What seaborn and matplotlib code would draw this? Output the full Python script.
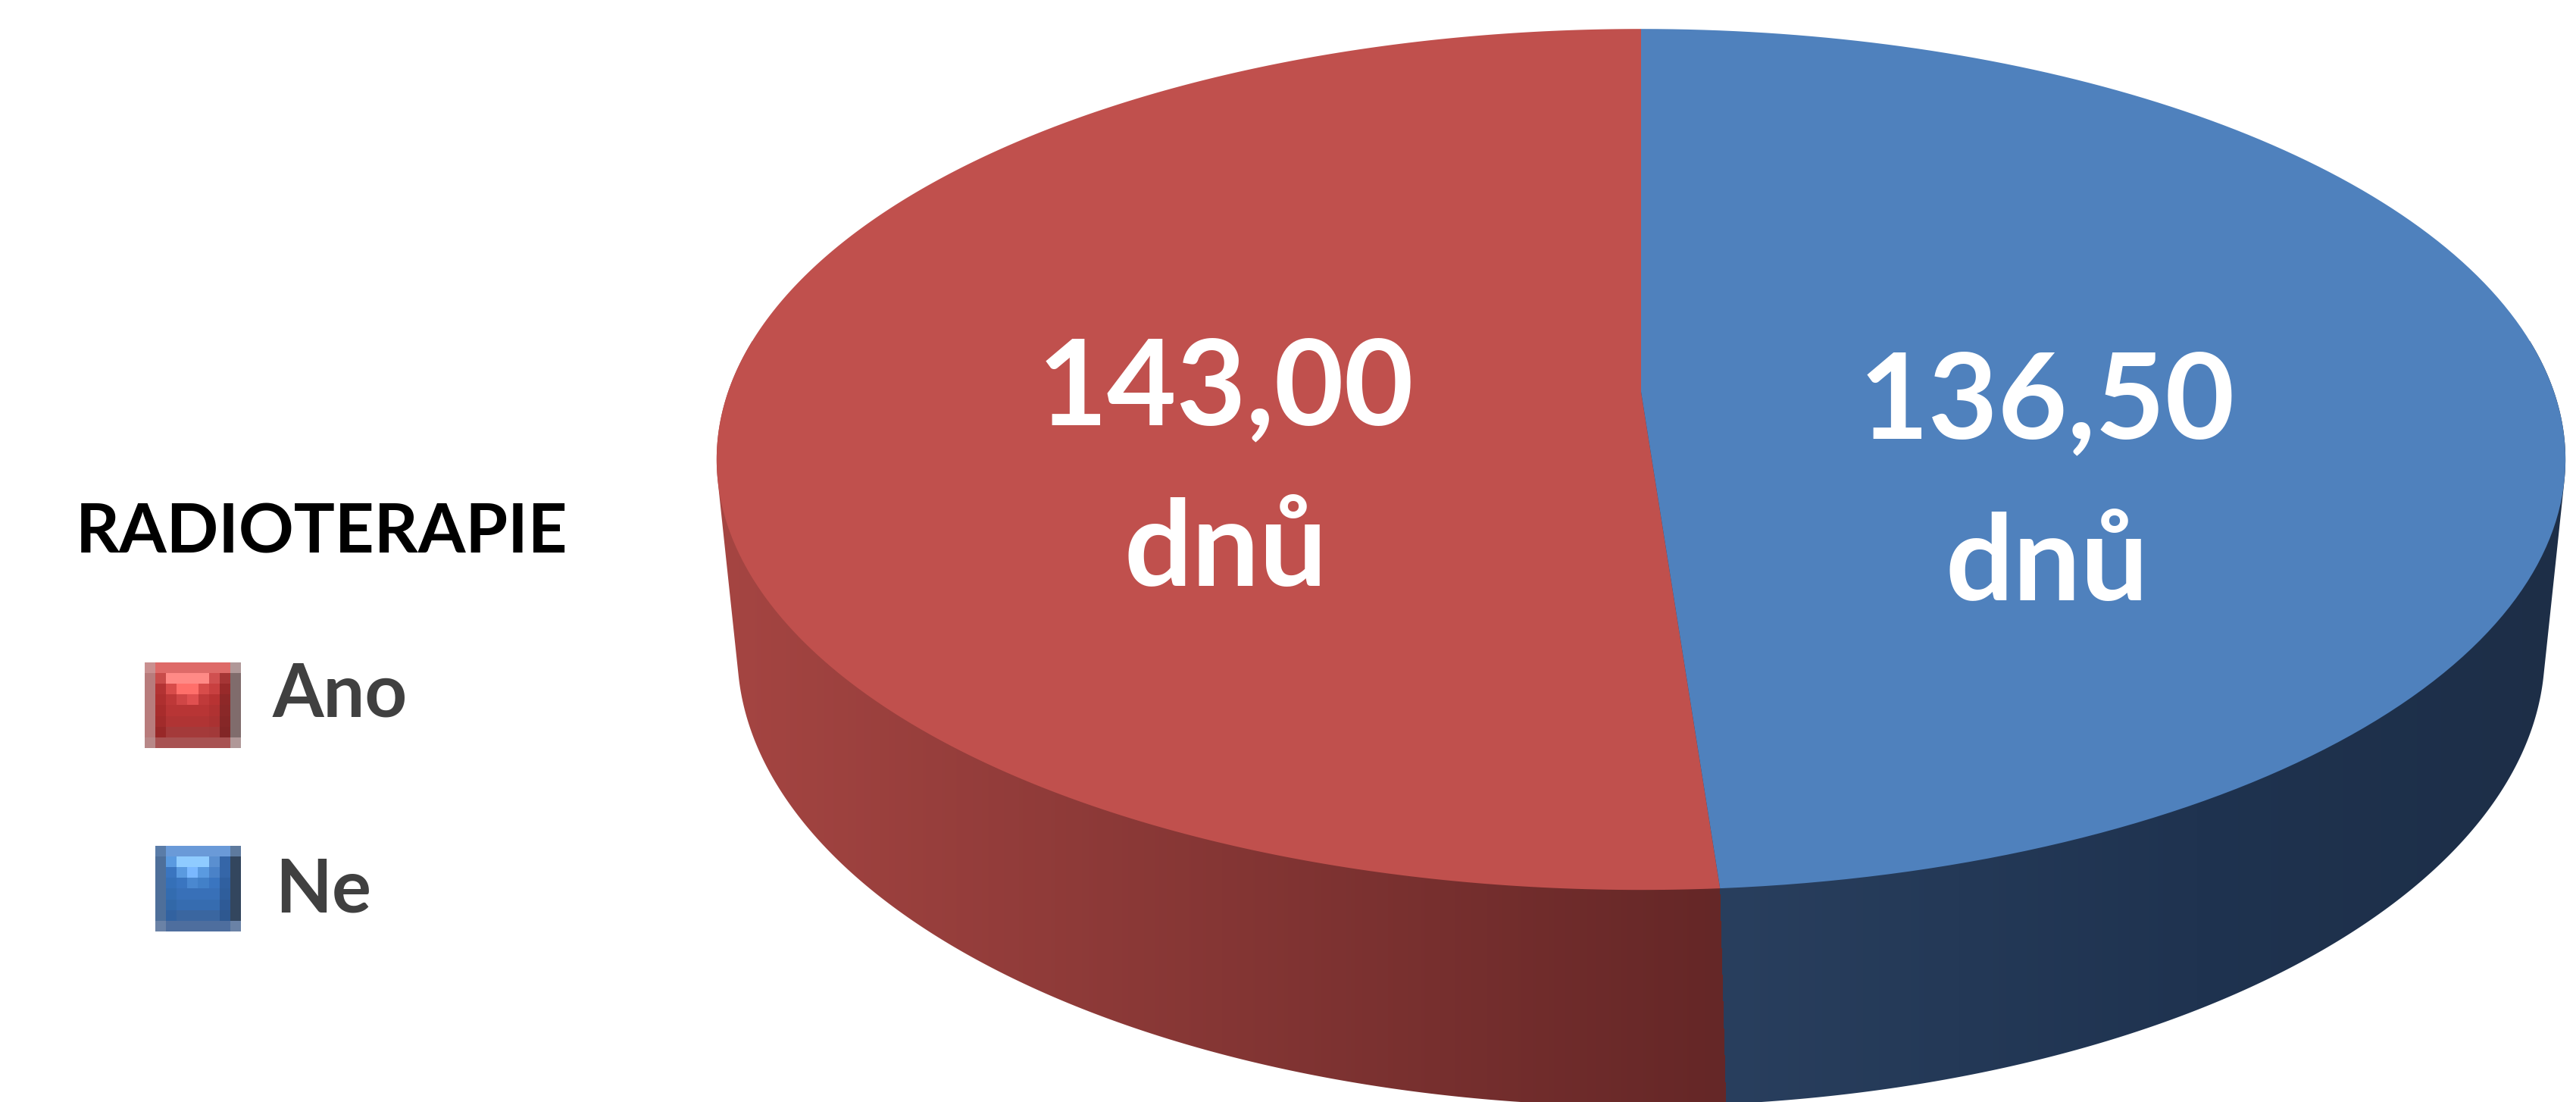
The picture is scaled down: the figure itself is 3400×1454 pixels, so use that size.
# Pizza 3D - dias por radioterapia
import numpy as np
import matplotlib
matplotlib.use("Agg")
import matplotlib.pyplot as plt
import seaborn as sns
from matplotlib.path import Path
from matplotlib.transforms import Transform
from matplotlib.colors import to_rgb

# Dados
Categorias = ["Ano", "Ne"]
Valores = [143.00, 136.50]
Rotulos = ["143,00\ndnů", "136,50\ndnů"]
Titulo_Legenda = "RADIOTERAPIE"

# Estilo
sns.set_theme(style="white")
plt.rcParams["font.family"] = ["Lato", "DejaVu Sans"]

Cores_Topo = ["#C0504D", "#4F81BD"]


# Transformacao em perspectiva do plano da pizza para pixels
class Perspectiva(Transform):
    input_dims = 2
    output_dims = 2
    is_separable = False
    has_inverse = False

    def __init__(self, cx, cy, a, b, k):
        super().__init__()
        self.cx, self.cy, self.a, self.b, self.k = cx, cy, a, b, k

    def transform_non_affine(self, values):
        values = np.atleast_2d(np.asarray(values, float))
        x, y = values[:, 0], values[:, 1]
        w = 1 + self.k * y
        return np.column_stack([self.cx + self.a * x / w, self.cy - self.b * y / w])

    def transform_path_non_affine(self, path):
        partes = []
        for bez, code in path.iter_bezier():
            cp = bez.control_points
            if len(cp) == 1:
                partes.append(cp)
            else:
                partes.append(bez(np.linspace(0, 1, 40))[1:])
        pts = np.concatenate(partes)
        return Path(self.transform_non_affine(pts), closed=True)


def casca_convexa(p):
    p = sorted(map(tuple, p))

    def cross(o, a, b):
        return (a[0] - o[0]) * (b[1] - o[1]) - (a[1] - o[1]) * (b[0] - o[0])

    lower, upper = [], []
    for q in p:
        while len(lower) >= 2 and cross(lower[-2], lower[-1], q) <= 0:
            lower.pop()
        lower.append(q)
    for q in reversed(p):
        while len(upper) >= 2 and cross(upper[-2], upper[-1], q) <= 0:
            upper.pop()
        upper.append(q)
    return np.array(lower[:-1] + upper[:-1])


# Geometria (pixels)
CX = 2166
persp_topo = Perspectiva(CX, 517, 1205, 554, 0.157)
persp_base = Perspectiva(CX, 710, 1155, 562, 0.25)

# Figura
fig = plt.figure(figsize=(34, 14.54), dpi=100)
ax = fig.add_axes([0, 0, 1, 1])

fatias, _, textos = ax.pie(
    Valores,
    colors=Cores_Topo,
    startangle=90,
    counterclock=True,
    autopct="%1.2f",
    pctdistance=0.45,
    wedgeprops=dict(linewidth=0),
)
for w in fatias:
    w.set_transform(persp_topo + ax.transData)
    w.set_zorder(2)

# Lateral
ang = np.linspace(0, 2 * np.pi, 1441)
circ = np.column_stack([np.cos(ang), np.sin(ang)])
contorno = casca_convexa(np.vstack([persp_topo.transform(circ), persp_base.transform(circ)]))
lateral = plt.Polygon(contorno, closed=True, facecolor="none", edgecolor="none")
ax.add_patch(lateral)

# divisao entre as fatias na frente
ang_div = np.deg2rad(90 + 360 * Valores[0] / sum(Valores))
p_div = np.array([[np.cos(ang_div), np.sin(ang_div)]])
x0, y0 = persp_topo.transform(p_div)[0]
x1, y1 = persp_base.transform(p_div)[0]

X0, X1, Y0, Y1 = 930, 3400, 450, 1454
xs = np.arange(X0, X1) + 0.5
ys = np.arange(Y0, Y1) + 0.5
XX, YY = np.meshgrid(xs, ys)
x_split = x0 + (x1 - x0) * np.clip((YY - y0) / (y1 - y0), 0, 1)


def degrade(pos, stops, cores):
    cores = np.array([to_rgb(c) for c in cores])
    return np.stack([np.interp(pos, stops, cores[:, i]) for i in range(3)], axis=-1)


verm = degrade(XX, [955, x0], ["#A54542", "#652727"])
azul = degrade(XX, [x0, 2900, 3383], ["#293F5E", "#1F3350", "#1D2E47"])
img = np.where((XX < x_split)[..., None], verm, azul)
im = ax.imshow(img, extent=(X0, X1, Y1, Y0), origin="upper", interpolation="nearest",
               aspect="auto", zorder=1)
im.set_clip_path(lateral)

# Rotulos
desloc = [-83, -46]
for t, rot, dy in zip(textos, Rotulos, desloc):
    px, py = persp_topo.transform([t.get_position()])[0]
    t.set_position((px - 5, py + dy))
    t.set_text(rot)
    t.set(color="white", fontsize=114, fontweight="bold", ha="center", va="top",
          linespacing=1.6, zorder=3)

# Legenda
ax.text(100, 730, Titulo_Legenda, fontsize=65, fontweight="bold", color="black",
        ha="left", va="baseline")

icone_verm = [
    ["#C99090", "#DE6A68", "#DE6A68", "#DE6A68", "#DE6A68", "#DE6A68", "#DE6A68", "#DE6A68", "#B09898"],
    ["#B87C7C", "#C84C4A", "#FF8A86", "#FF8A86", "#FF8A86", "#FF8A86", "#D05050", "#A53535", "#806C6C"],
    ["#B87C7C", "#B33333", "#D84C4A", "#FF6F6A", "#FF6F6A", "#D84C4A", "#C84040", "#982A2A", "#806C6C"],
    ["#B87C7C", "#AE2F2F", "#BE3838", "#D04646", "#E05050", "#C03A3A", "#B83333", "#8E2828", "#806C6C"],
    ["#B87C7C", "#A82C2C", "#B83535", "#B83535", "#B83535", "#B83535", "#B03232", "#8A2828", "#806C6C"],
    ["#B87C7C", "#A22B2B", "#B03434", "#B03434", "#B03434", "#B03434", "#AA3232", "#862727", "#806C6C"],
    ["#B87C7C", "#982828", "#A43A3A", "#A43A3A", "#A43A3A", "#A43A3A", "#A23939", "#822626", "#806C6C"],
    ["#B88888", "#A85252", "#A85252", "#A85252", "#A85252", "#A85252", "#A85252", "#A85252", "#B09898"],
]
icone_azul = [
    ["#5A7CA8", "#6A9AD8", "#6A9AD8", "#6A9AD8", "#6A9AD8", "#6A9AD8", "#6A9AD8", "#5E7A9E"],
    ["#4E6F9A", "#5A9AE0", "#8FCBFF", "#8FCBFF", "#8FCBFF", "#5A8FD0", "#3566A8", "#33465E"],
    ["#4E6F9A", "#3A75C0", "#5A9AE0", "#7AB8FF", "#5A9AE0", "#4A82C8", "#3566A8", "#33465E"],
    ["#4E6F9A", "#3570B8", "#3A75C0", "#4A88D0", "#4280C8", "#3A75C0", "#3060A0", "#33465E"],
    ["#4E6F9A", "#336CB0", "#3870B8", "#3870B8", "#3870B8", "#3870B8", "#2F5E9C", "#33465E"],
    ["#4E6F9A", "#3268A8", "#366CB0", "#366CB0", "#366CB0", "#366CB0", "#2E5A96", "#33465E"],
    ["#4E6F9A", "#3262A0", "#3A66A0", "#3A66A0", "#3A66A0", "#3A66A0", "#2E5890", "#33465E"],
    ["#6A82A6", "#4E6E9E", "#4E6E9E", "#4E6E9E", "#4E6E9E", "#4E6E9E", "#4E6E9E", "#6A82A6"],
]
icones = [
    (icone_verm, (191, 318, 987, 874), 360, 945),
    (icone_azul, (205, 318, 1229, 1116), 363, 1203),
]
for cat, (ic, ext, tx, ty) in zip(Categorias, icones):
    arr = np.array([[to_rgb(c) for c in linha] for linha in ic])
    ax.imshow(arr, extent=ext, origin="upper", interpolation="nearest", aspect="auto", zorder=2)
    ax.text(tx, ty, cat, fontsize=70, fontweight="bold", color="#404040",
            ha="left", va="baseline")

ax.set_aspect("auto")
ax.set_xlim(0, 3400)
ax.set_ylim(1454, 0)
ax.axis("off")

plt.savefig("out.png", dpi=100, facecolor="white")
